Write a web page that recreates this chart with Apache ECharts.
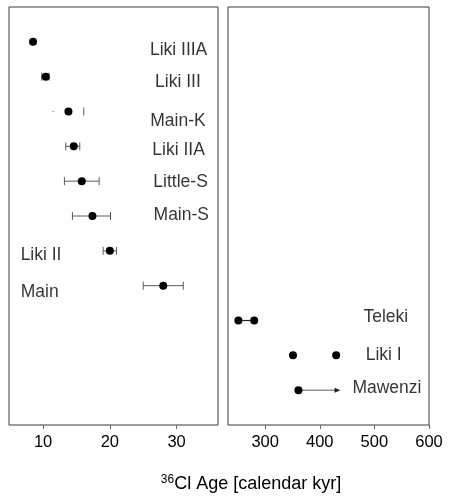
<!DOCTYPE html>
<html>
<head>
<meta charset="utf-8">
<script src="https://cdn.jsdelivr.net/npm/echarts@6/dist/echarts.min.js"></script>
<style>
  html, body { margin: 0; padding: 0; background: #fff; }
  #chart { width: 449px; height: 498px; }
</style>
</head>
<body>
<div id="chart"></div>
<script>
// Late-Quaternary moraines: 36Cl exposure ages (kyr)
const youngNames = ['Liki IIIA', 'Liki III', 'Main-K', 'Liki IIA', 'Little-S', 'Main-S', 'Liki II', 'Main'];
const youngAges  = [8.5, 10.4, 13.8, 14.6, 15.8, 17.4, 20.0, 28.0];
const youngLow   = [null, 9.8, 11.5, 13.4, 13.2, 14.4, 19.0, 25.0];
const youngHigh  = [null, 10.9, 16.1, 15.5, 18.4, 20.1, 21.0, 31.0];

// Older moraines: age ranges (kyr)
const oldNames = ['Teleki', 'Liki I', 'Mawenzi'];
const oldAgeA  = [251, 351, 361];
const oldAgeB  = [280, 430, 438];

const leftTicks  = [10, 20, 30];
const rightTicks = [300, 400, 500, 600];

// Row index of each moraine (top to bottom)
const youngRows = youngNames.map((_, i) => i + 1);
const oldRows   = oldNames.map((_, i) => youngNames.length + i + 1);

// Where each name is written: [x in kyr, row]
const youngLabelAt = {
  'Liki IIIA': [30.3, 1.24], 'Liki III': [30.2, 2.15], 'Main-K': [30.2, 3.27],
  'Liki IIA': [30.3, 4.1], 'Little-S': [30.6, 5.02], 'Main-S': [30.7, 5.97],
  'Liki II': [9.7, 7.12], 'Main': [9.5, 8.18]
};
const oldLabelAt = {
  'Teleki': [521, 8.9], 'Liki I': [517, 9.99], 'Mawenzi': [523, 10.95]
};

const FONT = '"Liberation Sans", Arial, Helvetica, sans-serif';
const FRAME = '#3a3a3a';
const BAR = '#5a5a5a';

function xAxisFor(gridIndex, min, max, ticks) {
  return {
    type: 'value', gridIndex, min, max,
    axisLine: { show: false, onZero: false },
    splitLine: { show: false },
    axisTick: {
      show: true, length: 4, inside: false,
      lineStyle: { color: '#666', width: 1 },
      customValues: ticks
    },
    axisLabel: {
      show: true, margin: 9, color: '#000', fontSize: 16.5, fontFamily: FONT,
      customValues: ticks, showMinLabel: true, showMaxLabel: true, hideOverlap: false
    }
  };
}
function yAxisFor(gridIndex) {
  return { type: 'value', gridIndex, min: 0, max: 12, inverse: true, show: false };
}

// Whiskers with end caps
const capsOnly = new Set(['Main-K']);
function renderErrorBar(params, api) {
  const row = api.value(2);
  const lo = api.coord([api.value(0), row]);
  const hi = api.coord([api.value(1), row]);
  const name = youngNames[params.dataIndex];
  const style = { stroke: BAR, lineWidth: 1, fill: null };
  const h = 4;
  const children = [];
  if (!capsOnly.has(name)) {
    children.push({ type: 'line', shape: { x1: lo[0], y1: lo[1], x2: hi[0], y2: hi[1] }, style });
  }
  const hl = capsOnly.has(name) ? 0.6 : h;
  children.push({ type: 'line', shape: { x1: lo[0], y1: lo[1] - hl, x2: lo[0], y2: lo[1] + hl }, style });
  children.push({ type: 'line', shape: { x1: hi[0], y1: hi[1] - h, x2: hi[0], y2: hi[1] + h }, style });
  return { type: 'group', children };
}

// Teleki span (plain line) and Mawenzi minimum age (arrow)
function renderOldSpan(params, api) {
  const name = oldNames[params.dataIndex];
  const row = api.value(2);
  const a = api.coord([api.value(0), row]);
  const b = api.coord([api.value(1), row]);
  if (name === 'Teleki') {
    return { type: 'line', shape: { x1: a[0], y1: a[1], x2: b[0], y2: b[1] },
             style: { stroke: '#222', lineWidth: 1.2 } };
  }
  if (name === 'Mawenzi') {
    const tip = b[0], y = b[1];
    return { type: 'group', children: [
      { type: 'line', shape: { x1: a[0], y1: y, x2: tip - 4, y2: y },
        style: { stroke: BAR, lineWidth: 1 } },
      { type: 'polygon', shape: { points: [[tip, y], [tip - 6, y - 2.5], [tip - 6, y + 2.5]] },
        style: { fill: '#222' } }
    ] };
  }
  return null;
}

const errData = youngNames.map((n, i) => youngLow[i] != null
  ? [youngLow[i], youngHigh[i], youngRows[i]]
  : [youngAges[i], youngAges[i], youngRows[i]]);

const labelStyle = {
  show: true, position: 'inside', color: '#000', fontSize: 17.5, fontFamily: FONT,
  formatter: p => p.name
};
const dotStyle = { color: '#000', opacity: 1 };

const option = {
  backgroundColor: '#fff',
  animation: false,
  grid: [
    { left: 9, top: 7, width: 209, height: 418, show: true, borderColor: FRAME, borderWidth: 1, backgroundColor: 'transparent' },
    { left: 228, top: 7, width: 201, height: 418, show: true, borderColor: FRAME, borderWidth: 1, backgroundColor: 'transparent' }
  ],
  xAxis: [
    xAxisFor(0, 4.9, 36.2, leftTicks),
    xAxisFor(1, 232, 600, rightTicks)
  ],
  yAxis: [yAxisFor(0), yAxisFor(1)],
  series: [
    {
      type: 'custom', xAxisIndex: 0, yAxisIndex: 0,
      renderItem: (params, api) => youngLow[params.dataIndex] == null ? null : renderErrorBar(params, api),
      data: errData, z: 2
    },
    {
      type: 'scatter', xAxisIndex: 0, yAxisIndex: 0,
      symbol: 'circle', symbolSize: 8, itemStyle: dotStyle,
      data: youngAges.map((v, i) => [v, youngRows[i]]), z: 3
    },
    {
      type: 'scatter', xAxisIndex: 0, yAxisIndex: 0, symbolSize: 0,
      label: labelStyle,
      data: youngNames.map(n => ({ name: n, value: youngLabelAt[n] }))
    },
    {
      type: 'custom', xAxisIndex: 1, yAxisIndex: 1,
      renderItem: renderOldSpan,
      data: oldNames.map((n, i) => [oldAgeA[i], oldAgeB[i], oldRows[i]]), z: 2
    },
    {
      type: 'scatter', xAxisIndex: 1, yAxisIndex: 1,
      symbol: 'circle', symbolSize: 8, itemStyle: dotStyle,
      data: oldNames.flatMap((n, i) => n === 'Mawenzi'
        ? [[oldAgeA[i], oldRows[i]]]
        : [[oldAgeA[i], oldRows[i]], [oldAgeB[i], oldRows[i]]]), z: 3
    },
    {
      type: 'scatter', xAxisIndex: 1, yAxisIndex: 1, symbolSize: 0,
      label: labelStyle,
      data: oldNames.map(n => ({ name: n, value: oldLabelAt[n] }))
    }
  ],
  graphic: [{
    type: 'text', x: 251, y: 484,
    style: {
      text: '{sup|36}{base|Cl Age [calendar kyr]}',
      align: 'center', verticalAlign: 'middle',
      rich: {
        sup: { fontSize: 12, fontFamily: FONT, fill: '#000', verticalAlign: 'top', padding: [0, 0, 8, 0] },
        base: { fontSize: 18, fontFamily: FONT, fill: '#000' }
      }
    }
  }]
};

const chart = echarts.init(document.getElementById('chart'), null, { renderer: 'canvas' });
chart.setOption(option);
</script>
</body>
</html>
